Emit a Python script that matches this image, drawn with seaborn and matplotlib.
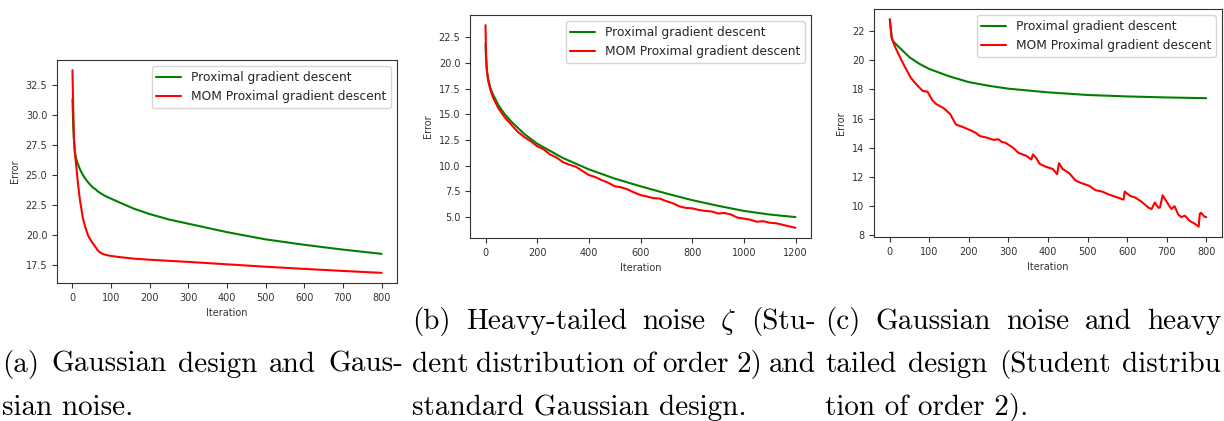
"""
Error vs iteration for proximal gradient descent and its MOM version,
three noise / design settings, with the paper captions underneath.
"""

import matplotlib
matplotlib.use("Agg")
import matplotlib.pyplot as plt
import seaborn as sns

# (a) Gaussian design, Gaussian noise
iters_a = [0, 2, 4, 6, 8, 10, 13, 16, 19, 23, 27, 33, 40, 47, 53, 60, 65, 72, 82,
           95, 116, 159, 200, 250, 300, 400, 500, 600, 700, 800]
pgd_a = [31.3, 29.0, 27.8, 27.0, 26.6, 26.3, 26.0, 25.75, 25.5, 25.25, 25.0, 24.7,
         24.4, 24.15, 23.95, 23.8, 23.65, 23.5, 23.3, 23.1, 22.8, 22.2, 21.75, 21.3,
         20.95, 20.25, 19.65, 19.2, 18.8, 18.45]
mom_a = [33.7, 30.5, 28.0, 27.0, 26.3, 25.7, 24.7, 23.8, 23.0, 22.2, 21.4, 20.7,
         20.0, 19.6, 19.3, 19.0, 18.75, 18.55, 18.4, 18.3, 18.2, 18.05, 17.96, 17.87,
         17.78, 17.58, 17.38, 17.2, 17.03, 16.87]

# (b) heavy-tailed noise
iters_b_pgd = [0, 2, 5, 10, 20, 30, 50, 75, 100, 150, 200, 300, 400, 500, 600, 700,
               800, 900, 1000, 1100, 1200]
pgd_b = [21.9, 20.5, 19.4, 18.5, 17.5, 16.9, 15.9, 15.0, 14.3, 13.1, 12.15, 10.75,
         9.65, 8.75, 8.0, 7.3, 6.65, 6.1, 5.6, 5.25, 5.0]
iters_b_mom = [0, 2, 5, 10, 20, 30, 50, 75, 100, 125, 150, 175, 200, 225, 250, 275,
               300, 325, 350, 375, 400, 425, 450, 475, 500, 525, 550, 575, 600, 625,
               650, 675, 700, 725, 750, 775, 800, 825, 850, 875, 900, 925, 950, 975,
               1000, 1025, 1050, 1075, 1100, 1125, 1150, 1175, 1200]
mom_b = [23.7, 21.0, 19.3, 18.3, 17.3, 16.6, 15.6, 14.7, 14.0, 13.3, 12.8, 12.4,
         11.9, 11.6, 11.1, 10.8, 10.35, 10.1, 9.9, 9.5, 9.1, 8.9, 8.6, 8.35, 8.0,
         7.9, 7.7, 7.4, 7.15, 7.0, 6.85, 6.8, 6.55, 6.35, 6.05, 5.9, 5.85, 5.7, 5.6,
         5.55, 5.35, 5.4, 5.25, 4.95, 4.85, 4.75, 4.55, 4.6, 4.45, 4.4, 4.25, 4.1, 3.95]

# (c) heavy-tailed design
iters_c_pgd = [0, 3, 5, 10, 25, 50, 75, 100, 150, 200, 250, 300, 400, 500, 600, 700, 800]
pgd_c = [22.8, 22.0, 21.5, 21.25, 20.85, 20.2, 19.75, 19.4, 18.9, 18.5, 18.25, 18.05,
         17.8, 17.62, 17.52, 17.45, 17.4]
iters_c_mom = [0, 3, 5, 12, 24, 37, 53, 67, 83, 95, 108, 117, 137, 153, 167, 187, 204,
               217, 228, 245, 262, 275, 283, 292, 312, 325, 345, 358, 362, 370, 379,
               395, 412, 423, 428, 437, 454, 470, 483, 504, 520, 537, 554, 570, 591,
               594, 608, 620, 637, 654, 662, 670, 679, 683, 690, 699, 712, 720, 729,
               737, 746, 758, 771, 781, 784, 787, 795, 800]
mom_c = [22.8, 22.0, 21.5, 21.0, 20.3, 19.6, 18.8, 18.35, 17.9, 17.85, 17.25, 17.0,
         16.7, 16.3, 15.6, 15.4, 15.2, 15.03, 14.8, 14.7, 14.55, 14.58, 14.4, 14.35,
         14.0, 13.66, 13.45, 13.2, 13.55, 13.3, 12.9, 12.7, 12.55, 12.2, 12.95, 12.55,
         12.25, 11.75, 11.6, 11.4, 11.1, 11.0, 10.8, 10.65, 10.45, 11.0, 10.7, 10.6,
         10.3, 9.9, 9.8, 10.25, 9.9, 9.9, 10.75, 10.35, 9.8, 10.0, 9.45, 9.25, 9.35,
         9.0, 8.8, 8.6, 9.5, 9.55, 9.3, 9.25]

label_pgd = "Proximal gradient descent"
label_mom = "MOM Proximal gradient descent"

W, H = 1224, 421

sns.set_style("ticks")
plt.rcParams["font.family"] = ["DejaVu Sans"]
plt.rcParams["mathtext.fontset"] = "cm"

fig = plt.figure(figsize=(W / 100, H / 100), dpi=100)


def panel(rect, xp, yp, xm, ym, yticks, xstep):
    ax = fig.add_axes([rect[0] / W, 1 - rect[3] / H,
                       (rect[2] - rect[0]) / W, (rect[3] - rect[1]) / H])
    sns.lineplot(x=xp, y=yp, ax=ax, color="green", linewidth=1.5, label=label_pgd)
    sns.lineplot(x=xm, y=ym, ax=ax, color="red", linewidth=1.5, label=label_mom)
    ax.set_yticks(yticks)
    ax.set_xticks(range(0, max(xp) + 1, xstep))
    ax.set_xlabel("Iteration", fontsize=7, color="#333333")
    ax.set_ylabel("Error", fontsize=7, color="#333333")
    ax.tick_params(labelsize=7, length=3.5, width=0.8, colors="#333333")
    for s in ax.spines.values():
        s.set_color("#333333")
        s.set_linewidth(0.8)
    ax.legend(loc="upper right", fontsize=8.8)
    return ax


panel((57, 60, 397, 283), iters_a, pgd_a, iters_a, mom_a,
      [17.5, 20.0, 22.5, 25.0, 27.5, 30.0, 32.5], 100)
panel((470, 15, 811, 238), iters_b_pgd, pgd_b, iters_b_mom, mom_b,
      [5.0, 7.5, 10.0, 12.5, 15.0, 17.5, 20.0, 22.5], 200)
panel((874, 9, 1222, 237), iters_c_pgd, pgd_c, iters_c_mom, mom_c,
      [8, 10, 12, 14, 16, 18, 20, 22], 100)

# captions, LaTeX-like justified lines
renderer = fig.canvas.get_renderer()
CAP = dict(fontsize=21, family="cmr10", va="baseline", ha="left", color="black")


def caption_line(text, x0, y, x1=None):
    if x1 is None:
        fig.text(x0 / W, 1 - y / H, text, **CAP)
        return
    words = text.split(" ")
    objs = [fig.text(0, 1 - y / H, w, **CAP) for w in words]
    widths = [o.get_window_extent(renderer).width for o in objs]
    gap = (x1 - x0 - sum(widths)) / (len(words) - 1)
    x = x0
    for o, w in zip(objs, widths):
        o.set_x(x / W)
        x += w + gap


caption_line("(a) Gaussian design and Gaus-", 2, 372, 403)
caption_line("sian noise.", 2, 415)
caption_line(r"(b) Heavy-tailed noise $\zeta$ (Stu-", 412, 329, 816)
caption_line("dent distribution of order 2) and", 412, 372, 816)
caption_line("standard Gaussian design.", 412, 415)
caption_line("(c) Gaussian noise and heavy", 825, 329, 1221)
caption_line("tailed design (Student distribu", 825, 372, 1221)
caption_line("tion of order 2).", 825, 415)

fig.savefig("out.png", dpi=100)
